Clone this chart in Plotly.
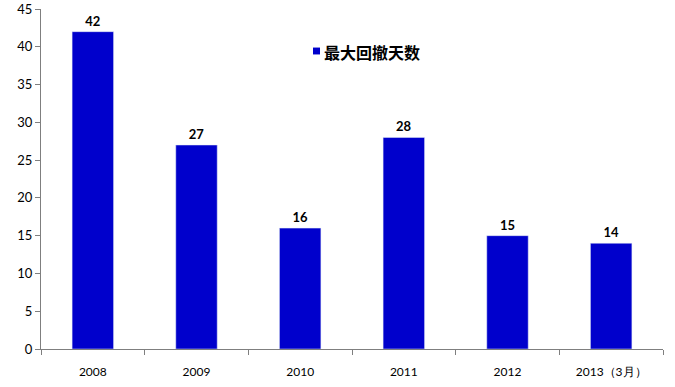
import plotly.graph_objects as go

categories = ["2008", "2009", "2010", "2011", "2012", "2013（3月）"]
values = [42, 27, 16, 28, 15, 14]
series_name = "最大回撤天数"
y_ticks = [0, 5, 10, 15, 20, 25, 30, 35, 40, 45]

bar_color = "#0000CC"
axis_color = "#7f7f7f"

fig = go.Figure()
fig.add_trace(go.Bar(
    x=categories, y=values, marker_color=bar_color, width=0.4,
    text=[str(v) for v in values], textposition="outside",
    textfont=dict(family="Lato", size=13, color="black", weight="bold"),
    cliponaxis=False, showlegend=False, name=series_name,
))

# legend drawn as a small square + label
fig.add_shape(type="rect", xref="paper", yref="paper",
              x0=0.4373, x1=0.4486, y0=0.8663, y1=0.8866,
              fillcolor=bar_color, line=dict(width=0))
fig.add_annotation(
    xref="paper", yref="paper", x=0.452, y=0.875, xanchor="left", yanchor="middle",
    text=series_name, showarrow=False,
    font=dict(family="Noto Sans CJK SC", size=16, color="black", weight="bold"),
)

fig.update_layout(
    width=675, height=387,
    margin=dict(l=41, r=12, t=9, b=38),
    plot_bgcolor="white", paper_bgcolor="white",
    font=dict(family="Lato", color="black"),
    showlegend=False,
    bargap=0.6,
)
fig.update_xaxes(
    type="category", showline=True, linecolor=axis_color, linewidth=1,
    ticks="outside", tickson="boundaries", ticklen=5, tickcolor=axis_color,
    tickfont=dict(size=12, family="Lato", color="black"),
    ticklabelstandoff=12, automargin=False,
    showgrid=False, zeroline=False,
)
fig.update_yaxes(
    range=[0, 45], tickvals=y_ticks, showline=True, linecolor=axis_color, linewidth=1,
    ticks="outside", ticklen=5, tickcolor=axis_color,
    tickfont=dict(size=13, family="Lato", color="black"),
    ticklabeloverflow="allow", automargin=False,
    showgrid=False, zeroline=False,
)

fig.write_html("out.html")
